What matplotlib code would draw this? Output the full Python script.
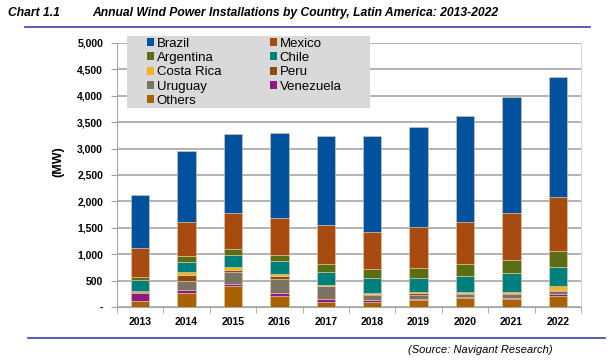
import matplotlib.pyplot as plt
import matplotlib.patches as mpatches
import numpy as np

plt.rcParams["font.family"] = ["Liberation Sans", "DejaVu Sans"]

years = ["2013", "2014", "2015", "2016", "2017", "2018", "2019", "2020", "2021", "2022"]

# stacked from bottom to top
others = [113, 258, 403, 214, 101, 101, 132, 170, 145, 208]
venezuela = [145, 57, 31, 44, 44, 25, 25, 19, 31, 44]
uruguay = [31, 182, 226, 277, 245, 107, 75, 63, 69, 57]
peru = [15, 107, 38, 44, 15, 19, 25, 19, 13, 13]
costa_rica = [0, 50, 63, 44, 15, 19, 25, 19, 31, 69]
chile = [200, 200, 220, 245, 239, 270, 264, 296, 352, 365]
argentina = [57, 107, 126, 120, 151, 170, 201, 226, 245, 302]
mexico = [553, 649, 673, 698, 743, 704, 768, 798, 894, 1025]
brazil = [1006, 1350, 1490, 1614, 1677, 1825, 1885, 2000, 2200, 2280]

series = [
    ("Others", others, "#A86300"),
    ("Venezuela", venezuela, "#8E1A7E"),
    ("Uruguay", uruguay, "#7A7262"),
    ("Peru", peru, "#8A4B0C"),
    ("Costa Rica", costa_rica, "#F2B51D"),
    ("Chile", chile, "#00807C"),
    ("Argentina", argentina, "#5A6E16"),
    ("Mexico", mexico, "#A84B10"),
    ("Brazil", brazil, "#00529C"),
]
colors = {name: c for name, vals, c in series}

fig = plt.figure(figsize=(6.15, 3.64), dpi=100)
ax = fig.add_axes([117 / 615, 57 / 364, 464 / 615, 264 / 364])

x = np.arange(len(years))
bottom = np.zeros(len(years))
for name, vals, c in series:
    ax.bar(x, vals, 0.4, bottom=bottom, color=c, edgecolor="#E8C8A8", linewidth=0.4, zorder=3)
    bottom += np.array(vals)

ax.set_xlim(-0.5, len(years) - 0.5)
ax.set_ylim(0, 5000)
yt = np.arange(0, 5001, 500)
ax.set_yticks(yt)
ax.set_yticklabels(["-"] + [f"{v:,}" for v in yt[1:]], fontsize=7.5, fontweight="bold")
ax.set_xticks(x)
ax.set_xticklabels(years, fontsize=7.5, fontweight="bold")
ax.set_xticks(np.arange(-0.5, len(years)), minor=True)
ax.tick_params(axis="x", which="major", length=0, pad=7)
ax.tick_params(axis="x", which="minor", length=4, color="#A0A0A0")
ax.tick_params(axis="y", length=4, color="#A0A0A0", pad=6)
ax.yaxis.grid(True, color="#A6A6A6", linewidth=1.2, zorder=0)
ax.spines["top"].set_visible(False)
ax.spines["right"].set_color("#D9D9D9")
ax.spines["left"].set_color("#A6A6A6")
ax.spines["bottom"].set_color("#A6A6A6")
ax.set_ylabel("(MW)", fontsize=9, fontweight="bold")
ax.yaxis.set_label_coords(-53 / 464, 0.55)

# legend background box
fig.add_artist(mpatches.Rectangle((127 / 615, 1 - 108 / 364), 243 / 615, 72 / 364,
                                  transform=fig.transFigure, facecolor="#D9D9D9",
                                  edgecolor="none", zorder=4))

order = ["Brazil", "Argentina", "Costa Rica", "Uruguay", "Others",
         "Mexico", "Chile", "Peru", "Venezuela"]
handles = [mpatches.Patch(facecolor=colors[n], label=n) for n in order]
leg = fig.legend(handles=handles, ncol=2, loc="upper left",
                 bbox_to_anchor=(144 / 615, 1 - 35 / 364),
                 fontsize=9.5, frameon=False, handlelength=0.55, handleheight=0.55,
                 handletextpad=0.2, labelspacing=0.18, columnspacing=3.7, borderpad=0.2,
                 borderaxespad=0)
leg.set_zorder(5)

fig.text(8 / 615, 1 - 13 / 364, "Chart 1.1", fontsize=8.7, fontweight="bold",
         style="italic", va="center")
fig.text(92 / 615, 1 - 13 / 364, "Annual Wind Power Installations by Country, Latin America: 2013-2022",
         fontsize=8.7, fontweight="bold", style="italic", va="center")
fig.add_artist(plt.Line2D([25 / 615, 590 / 615], [1 - 27 / 364, 1 - 27 / 364],
                          color="#3A3FA0", linewidth=1.2))
fig.add_artist(plt.Line2D([28 / 615, 605 / 615], [1 - 338 / 364, 1 - 338 / 364],
                          color="#3A3FA0", linewidth=1.2))
fig.text(480 / 615, 1 - 350 / 364, "(Source: Navigant Research)", fontsize=8,
         style="italic", ha="center", va="center")

fig.savefig("out.png", dpi=100)
